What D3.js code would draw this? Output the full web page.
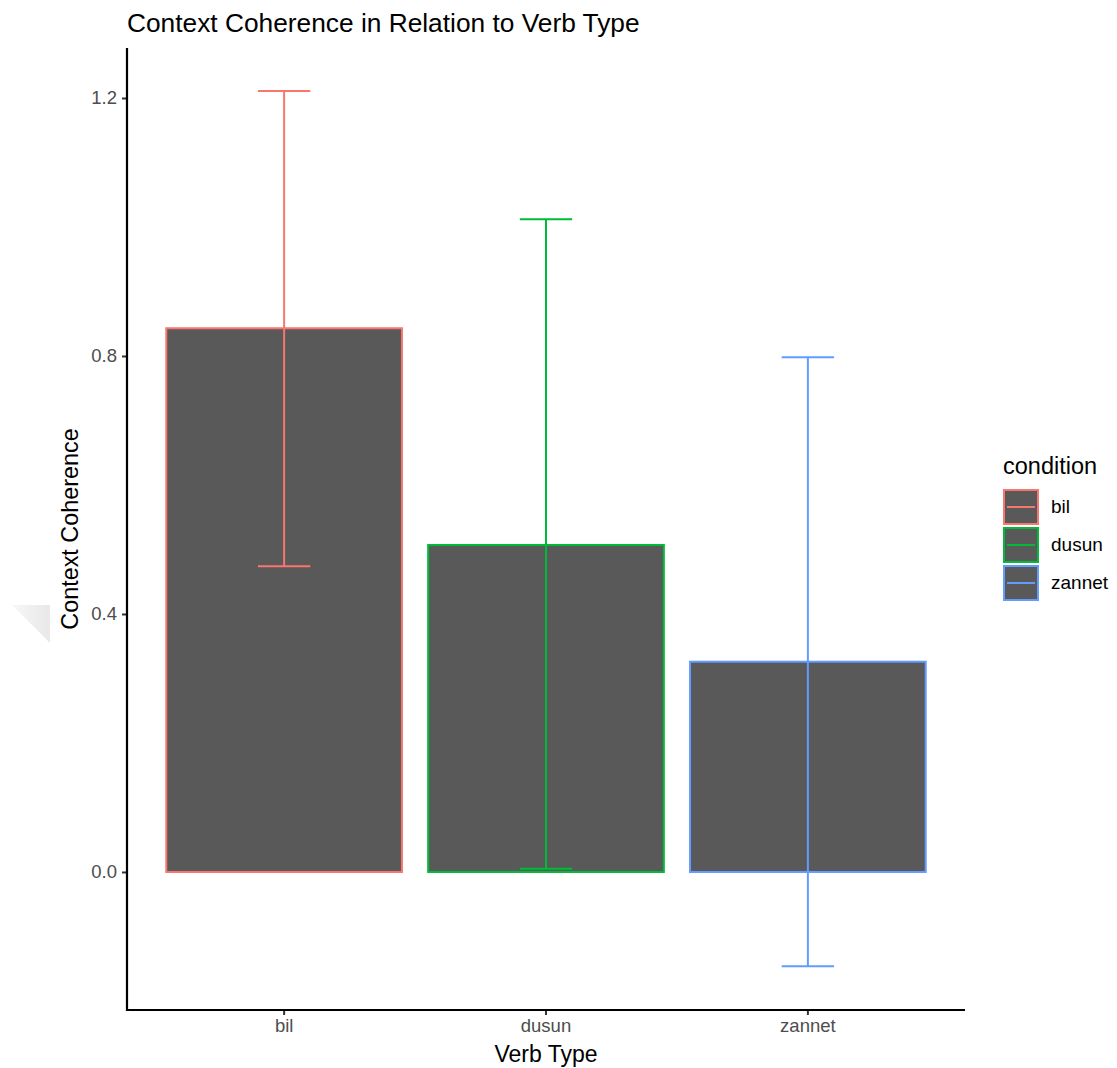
<!DOCTYPE html>
<meta charset="utf-8">
<head>
  <title>Context Coherence</title>
  <style>
    body { margin: 0; background: #fff; }
    text { font-family: "Liberation Sans", Arial, sans-serif; }
  </style>
</head>
<body>
<script src="https://d3js.org/d3.v7.min.js"></script>
<div id="chart"></div>
<script>

// data
var verbs = ["bil", "dusun", "zannet"];
var means = [0.843, 0.507, 0.326];
var errLow = [0.474, 0.005, -0.146];
var errHigh = [1.211, 1.012, 0.798];
var yTicks = [0.0, 0.4, 0.8, 1.2];
var colors = ["#F8766D", "#00BA38", "#619CFF"];

var data = verbs.map(function(v, i) {
  return {verb: v, mean: means[i], lo: errLow[i], hi: errHigh[i], col: colors[i]};
});

var width = 1117, height = 1068;
var panel = {left: 127, right: 965, top: 48, bottom: 1010};

var svg = d3.select("#chart").append("svg")
    .attr("width", width)
    .attr("height", height);

// the faint grey wedge at the left edge of the picture
var grad = svg.append("defs").append("linearGradient")
    .attr("id", "wedge").attr("x1", "0").attr("x2", "1");
grad.append("stop").attr("offset", "0").attr("stop-color", "#f7f7f7");
grad.append("stop").attr("offset", "1").attr("stop-color", "#e8e8e8");
svg.append("path")
    .attr("d", "M12,605 L50,605 L50,643 Z")
    .style("fill", "url(#wedge)");

// scales: ggplot-style discrete expansion, 0.6 units each side
var step = (panel.right - panel.left) / (verbs.length + 0.2);
var x = d3.scaleBand()
    .domain(verbs)
    .range([panel.left + 0.1 * step, panel.right - 0.1 * step])
    .padding(0);

var y = d3.scaleLinear()
    .domain([-0.214, 1.2775])
    .range([panel.bottom, panel.top]);

var barW = x.bandwidth() * 0.9;
var capW = x.bandwidth() * 0.2;

// bars
svg.append("g").selectAll("rect")
    .data(data)
  .enter().append("rect")
    .attr("x", function(d) { return x(d.verb) + (x.bandwidth() - barW) / 2; })
    .attr("y", function(d) { return y(d.mean); })
    .attr("width", barW)
    .attr("height", function(d) { return y(0) - y(d.mean); })
    .style("fill", "#595959")
    .style("stroke", function(d) { return d.col; })
    .style("stroke-width", 2);

// error bars
var eb = svg.append("g").selectAll("g")
    .data(data)
  .enter().append("g")
    .style("stroke", function(d) { return d.col; })
    .style("stroke-width", 2)
    .style("fill", "none");

function cx(d) { return x(d.verb) + x.bandwidth() / 2; }

eb.append("line")
    .attr("x1", cx).attr("x2", cx)
    .attr("y1", function(d) { return y(d.lo); })
    .attr("y2", function(d) { return y(d.hi); });
eb.append("line")
    .attr("x1", function(d) { return cx(d) - capW / 2; })
    .attr("x2", function(d) { return cx(d) + capW / 2; })
    .attr("y1", function(d) { return y(d.hi); })
    .attr("y2", function(d) { return y(d.hi); });
eb.append("line")
    .attr("x1", function(d) { return cx(d) - capW / 2; })
    .attr("x2", function(d) { return cx(d) + capW / 2; })
    .attr("y1", function(d) { return y(d.lo); })
    .attr("y2", function(d) { return y(d.lo); });

// axes
var yAxis = svg.append("g")
    .attr("transform", "translate(" + panel.left + ",0)")
    .call(d3.axisLeft(y).tickValues(yTicks).tickFormat(d3.format(".1f")).tickSize(5).tickPadding(5));
var xAxis = svg.append("g")
    .attr("transform", "translate(0," + panel.bottom + ")")
    .call(d3.axisBottom(x).tickSize(5).tickPadding(4));

[yAxis, xAxis].forEach(function(a) {
  a.select(".domain").remove();
  a.selectAll(".tick line").style("stroke", "#333").style("stroke-width", 2);
  a.selectAll(".tick text").style("fill", "#4d4d4d").style("font-size", "18.5px")
    .style("font-family", "Liberation Sans, Arial, sans-serif");
});

svg.append("line")
    .attr("x1", panel.left).attr("x2", panel.left)
    .attr("y1", panel.top).attr("y2", panel.bottom + 1)
    .style("stroke", "black").style("stroke-width", 2.2);
svg.append("line")
    .attr("x1", panel.left - 1).attr("x2", panel.right)
    .attr("y1", panel.bottom).attr("y2", panel.bottom)
    .style("stroke", "black").style("stroke-width", 2.2);

// titles
svg.append("text")
    .attr("x", panel.left)
    .attr("y", 32)
    .style("font-size", "26.3px")
    .text("Context Coherence in Relation to Verb Type");

svg.append("text")
    .attr("x", (panel.left + panel.right) / 2)
    .attr("y", 1062)
    .attr("text-anchor", "middle")
    .style("font-size", "23px")
    .text("Verb Type");

svg.append("text")
    .attr("transform", "translate(78,529) rotate(-90)")
    .attr("text-anchor", "middle")
    .style("font-size", "23.4px")
    .text("Context Coherence");

// legend
var legend = svg.append("g").attr("transform", "translate(1003,466)");
legend.append("text")
    .attr("x", 0).attr("y", 8)
    .style("font-size", "23.5px")
    .text("condition");

var keySize = 36;
var keys = legend.selectAll("g.key")
    .data(data)
  .enter().append("g")
    .attr("class", "key")
    .attr("transform", function(d, i) { return "translate(0," + (23 + i * (keySize + 2)) + ")"; });
keys.append("rect")
    .attr("x", 1).attr("y", 1)
    .attr("width", keySize - 2).attr("height", keySize - 2)
    .style("fill", "#595959")
    .style("stroke", function(d) { return d.col; })
    .style("stroke-width", 2);
keys.append("line")
    .attr("x1", 4).attr("x2", keySize - 4)
    .attr("y1", keySize / 2).attr("y2", keySize / 2)
    .style("stroke", function(d) { return d.col; })
    .style("stroke-width", 2);
keys.append("text")
    .attr("x", keySize + 12)
    .attr("y", keySize / 2 + 6)
    .style("font-size", "19px")
    .text(function(d) { return d.verb; });

</script>
</body>
</html>
